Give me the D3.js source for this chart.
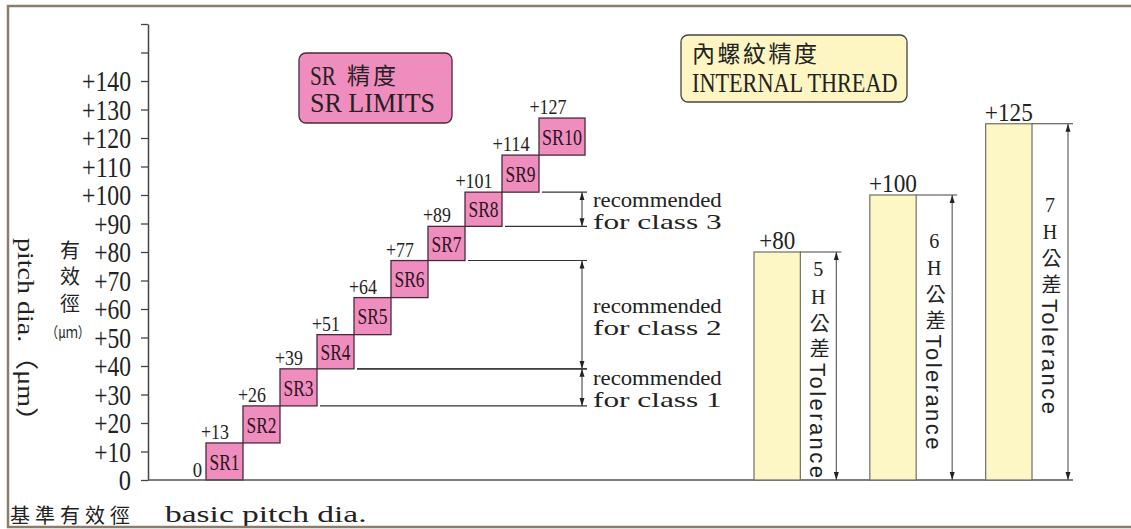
<!DOCTYPE html>
<html>
<head>
<meta charset="utf-8">
<script src="https://cdn.jsdelivr.net/npm/d3@7"></script>
<style>
  html, body { margin: 0; padding: 0; background: #fff; }
  svg { display: block; }
  .vert { writing-mode: vertical-rl; text-orientation: upright; }
</style>
</head>
<body>
<svg id="chart" width="1131" height="529"></svg>
<script>
// ---- data ----
const yTickValues = [0, 10, 20, 30, 40, 50, 60, 70, 80, 90, 100, 110, 120, 130, 140, 150, 160];
const yTickLabels = ['0', '+10', '+20', '+30', '+40', '+50', '+60', '+70', '+80', '+90',
                     '+100', '+110', '+120', '+130', '+140', '', ''];

const srNames = ['SR1', 'SR2', 'SR3', 'SR4', 'SR5', 'SR6', 'SR7', 'SR8', 'SR9', 'SR10'];
const srLower = [0, 13, 26, 39, 51, 64, 77, 89, 101, 114];
const srUpper = [13, 26, 39, 51, 64, 77, 89, 101, 114, 127];

const classNames = ['class 1', 'class 2', 'class 3'];
const classLow   = [26, 39, 89];
const classHigh  = [39, 77, 101];

const threadGrades = ['5H', '6H', '7H'];
const threadTol    = [80, 100, 125];

// ---- look ----
const SERIF = '"Liberation Serif", "Noto Sans CJK TC", serif';
const CJK = '"Noto Sans CJK TC", "Noto Sans CJK SC", sans-serif';
const SANS = '"Liberation Sans", "DejaVu Sans", sans-serif';
const PINK = '#f08dbf', PINK_STROKE = '#4a2a3a';
const CREAM = '#fdf7c6';
const INK = '#222';

const svg = d3.select('#chart');

// MingLiU-like half-width text: tall serif squeezed to a fixed pitch
function ming(sel, size, charW) {
  sel.attr('font-family', SERIF).attr('font-size', size).attr('fill', INK)
    .each(function() {
      const n = this.textContent.length;
      if (n) d3.select(this).attr('textLength', n * charW).attr('lengthAdjust', 'spacingAndGlyphs');
    });
  return sel;
}

svg.append('defs').html(`
  <marker id="arr" markerUnits="userSpaceOnUse" markerWidth="8" markerHeight="6" refX="8" refY="3" orient="auto-start-reverse">
    <path d="M0,0.5 L8,3 L0,5.5 Z" fill="#222"/>
  </marker>`);

const y = d3.scaleLinear().domain([0, 160]).range([480, 24]);
const axisX = 148;

// ---- y axis ----
const gAxis = svg.append('g').attr('transform', `translate(${axisX},0)`)
  .call(d3.axisLeft(y).tickValues(yTickValues).tickSize(7).tickSizeOuter(0).tickPadding(10)
    .tickFormat((d, i) => yTickLabels[i]));
gAxis.select('.domain').attr('stroke', '#444').attr('stroke-width', 1.5);
gAxis.selectAll('.tick line').attr('stroke', '#444').attr('stroke-width', 1.3);
gAxis.selectAll('.tick text').call(ming, 29, 12.25).attr('dy', '0.33em');

// axis titles
svg.append('text').attr('transform', 'translate(26,238) rotate(90)')
  .attr('dy', '0.35em').text('pitch dia.（μm）')
  .attr('font-family', SERIF).attr('font-size', 23).attr('fill', INK)
  .attr('textLength', 197).attr('lengthAdjust', 'spacingAndGlyphs');

svg.append('text').attr('class', 'vert').attr('x', 70).attr('y', 240)
  .attr('font-family', CJK).attr('font-size', 20).attr('letter-spacing', 6.5).attr('fill', INK)
  .text('有效徑');
svg.append('text').attr('x', 68).attr('y', 333).attr('dy', '0.36em').attr('text-anchor', 'middle')
  .attr('font-family', CJK).attr('font-size', 15).attr('fill', INK)
  .attr('textLength', 44).attr('lengthAdjust', 'spacingAndGlyphs').text('（μｍ）');

// bottom caption
svg.append('text').attr('x', 10).attr('y', 523).attr('font-family', CJK).attr('font-size', 20)
  .attr('letter-spacing', 5).attr('fill', INK).text('基準有效徑');
svg.append('text').attr('x', 165).attr('y', 522).text('basic pitch dia.').call(ming, 23, 12.6);

// ---- SR staircase ----
const xSR = d3.scaleBand().domain(srNames).range([206, 576]).padding(0);
const boxLabelW = 10;
const srData = srNames.map((name, i) => ({
  name, lo: srLower[i], hi: srUpper[i],
  x: xSR(name),
  w: Math.max(xSR.bandwidth(), name.length * boxLabelW + 6)
}));

const gSR = svg.append('g');
gSR.selectAll('rect').data(srData).join('rect')
  .attr('x', d => d.x).attr('y', d => y(d.hi))
  .attr('width', d => d.w).attr('height', d => y(d.lo) - y(d.hi))
  .attr('fill', PINK).attr('stroke', PINK_STROKE).attr('stroke-width', 1.3);
gSR.selectAll('text.box').data(srData).join('text').attr('class', 'box')
  .attr('x', d => d.x + d.w / 2).attr('y', d => (y(d.hi) + y(d.lo)) / 2).attr('dy', '0.34em')
  .attr('text-anchor', 'middle').text(d => d.name).call(ming, 24, boxLabelW).attr('fill', '#2a1420');
gSR.selectAll('text.val').data(srData).join('text').attr('class', 'val')
  .attr('x', d => d.x + 9).attr('y', d => y(d.hi) - 4)
  .attr('text-anchor', 'middle').text(d => '+' + d.hi).call(ming, 22, 9.3);
gSR.append('text').attr('x', srData[0].x - 4).attr('y', y(srData[0].lo) - 3)
  .attr('text-anchor', 'end').text(String(srData[0].lo)).call(ming, 22, 9.3);

// recommended class brackets
const arrowX = 582;
const gCls = svg.append('g');
classNames.forEach((cls, i) => {
  [classLow[i], classHigh[i]].forEach(v => {
    const box = srData.find(d => d.lo === v);
    gCls.append('line')
      .attr('x1', box.x + box.w + 3).attr('x2', arrowX + 5)
      .attr('y1', y(v)).attr('y2', y(v))
      .attr('stroke', '#333').attr('stroke-width', 1.1);
  });
  gCls.append('line').attr('x1', arrowX).attr('x2', arrowX)
    .attr('y1', y(classHigh[i])).attr('y2', y(classLow[i]))
    .attr('stroke', '#444').attr('stroke-width', 1.1)
    .attr('marker-start', 'url(#arr)').attr('marker-end', 'url(#arr)');
  const mid = (y(classHigh[i]) + y(classLow[i])) / 2;
  gCls.append('text').attr('x', arrowX + 11).attr('y', mid - 2).text('recommended').call(ming, 22, 11.7);
  gCls.append('text').attr('x', arrowX + 11).attr('y', mid + 20).text('for ' + cls).call(ming, 22, 11.7);
});

// ---- internal thread bars ----
const xT = d3.scaleBand().domain(threadGrades).range([754, 1032]).paddingInner(0.6).paddingOuter(0);
const tData = threadGrades.map((g, i) => ({ g, v: threadTol[i], x: xT(g), w: xT.bandwidth() }));

// baseline
svg.append('line').attr('x1', axisX).attr('x2', 1073).attr('y1', y(0)).attr('y2', y(0))
  .attr('stroke', '#555').attr('stroke-width', 1.5);

const gT = svg.append('g');
gT.selectAll('rect').data(tData).join('rect')
  .attr('x', d => d.x).attr('y', d => y(d.v)).attr('width', d => d.w).attr('height', d => y(0) - y(d.v))
  .attr('fill', CREAM).attr('stroke', '#6f6f66').attr('stroke-width', 1.2);
gT.selectAll('text.val').data(tData).join('text').attr('class', 'val')
  .attr('x', d => d.x + d.w / 2).attr('y', d => y(d.v) - 3).attr('text-anchor', 'middle')
  .text(d => '+' + d.v).call(ming, 26, 12);

tData.forEach(d => {
  const right = d.x + d.w;
  const ax = right + 36;
  gT.append('line').attr('x1', right).attr('x2', ax + 5).attr('y1', y(d.v)).attr('y2', y(d.v))
    .attr('stroke', '#444').attr('stroke-width', 1.1);
  gT.append('line').attr('x1', ax).attr('x2', ax).attr('y1', y(d.v)).attr('y2', y(0))
    .attr('stroke', '#555').attr('stroke-width', 1.1)
    .attr('marker-start', 'url(#arr)').attr('marker-end', 'url(#arr)');
  // vertical label: upright grade + 公差, then rotated "Tolerance"
  const cx = right + 18;
  const start = (y(d.v) + y(0)) / 2 - 106;
  gT.append('text').attr('class', 'vert').attr('x', cx).attr('y', start - 2)
    .attr('font-family', SERIF).attr('font-size', 20).attr('letter-spacing', 5.5)
    .attr('fill', INK).text(d.g + '公差');
  gT.append('text').attr('transform', `translate(${cx},${start + 103}) rotate(90)`)
    .attr('dy', '0.36em').attr('font-family', SANS).attr('font-size', 22).attr('fill', INK)
    .attr('textLength', 115).attr('lengthAdjust', 'spacing').text('Tolerance');
});

// ---- title boxes ----
const gBox1 = svg.append('g');
gBox1.append('rect').attr('x', 299).attr('y', 53).attr('width', 153).attr('height', 70).attr('rx', 7)
  .attr('fill', PINK).attr('stroke', PINK_STROKE).attr('stroke-width', 1.3);
gBox1.append('text').attr('x', 310).attr('y', 85).text('SR').call(ming, 28, 13);
gBox1.append('text').attr('x', 347).attr('y', 84).attr('font-family', CJK).attr('font-size', 23)
  .attr('letter-spacing', 3).attr('fill', INK).text('精度');
gBox1.append('text').attr('x', 310).attr('y', 112).text('SR LIMITS').call(ming, 28, 13.9);

const gBox2 = svg.append('g');
gBox2.append('rect').attr('x', 681).attr('y', 35).attr('width', 226).attr('height', 67).attr('rx', 7)
  .attr('fill', '#fdf5c2').attr('stroke', '#444').attr('stroke-width', 1.3);
gBox2.append('text').attr('x', 692).attr('y', 62).attr('font-family', CJK).attr('font-size', 23)
  .attr('letter-spacing', 2.5).attr('fill', INK).text('內螺紋精度');
gBox2.append('text').attr('x', 692).attr('y', 92).text('INTERNAL THREAD').call(ming, 28, 13.7);

// ---- outer frame ----
svg.append('rect').attr('x', 8).attr('y', 6).attr('width', 1140).attr('height', 521)
  .attr('fill', 'none').attr('stroke', '#8a7d6e').attr('stroke-width', 2.5);
</script>
</body>
</html>
